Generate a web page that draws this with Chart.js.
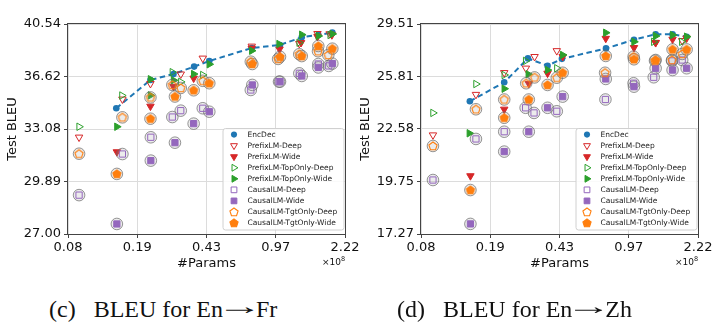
<!DOCTYPE html>
<html>
<head>
<meta charset="utf-8">
<script src="https://cdn.jsdelivr.net/npm/chart.js@4.4.1/dist/chart.umd.min.js"></script>
<style>
  html, body { margin: 0; padding: 0; }
  body { width: 720px; height: 329px; background: #fff; position: relative; overflow: hidden; }
  canvas { position: absolute; top: 0; }
  .exp { position: absolute; font: 9px "DejaVu Sans", sans-serif; color: #111; line-height: 9px; }
  .exp sup { font-size: 6.5px; vertical-align: 4px; }
  .cap { position: absolute; top: 297px; font: 24px "Liberation Serif", "Times New Roman", serif; color: #111; line-height: 24px; white-space: pre; }
  .cap .gap { display: inline-block; width: 18px; }
  .cap .arr { display: inline-block; width: 33px; text-align: center; transform: translateY(-3px) scaleX(1.9); }
</style>
</head>
<body>
<canvas id="fr" width="380" height="290" style="left:0px"></canvas>
<canvas id="zh" width="367" height="290" style="left:353px"></canvas>
<div class="exp" style="left:322px;top:255px">×10<sup>8</sup></div>
<div class="exp" style="left:675px;top:255px">×10<sup>8</sup></div>
<div class="cap" style="left:49px">(c)<span class="gap"></span>BLEU for En<span class="arr">→</span>Fr</div>
<div class="cap" style="left:397px">(d)<span class="gap"></span>BLEU for En<span class="arr">→</span>Zh</div>
<script>
// Model size axis (#Params, in units of 1e8), log-spaced ticks
const paramTicks = [0.0815, 0.1862, 0.4255, 0.9723, 2.2217];
const paramTickLabels = ['0.08', '0.19', '0.43', '0.97', '2.22'];

// ---- En→Fr test BLEU ----
const frBleuTicks = [27.00, 29.89, 33.08, 36.62, 40.54];
const frEncDecParams = [0.145, 0.218, 0.287, 0.367, 0.440, 0.730, 1.023, 1.326, 1.616, 1.910];
const frEncDecBleu   = [34.44, 36.38, 36.80, 37.33, 37.74, 38.70, 38.93, 39.51, 39.69, 39.87];
const frPrefixDeepParams = [0.093, 0.156, 0.218, 0.313, 0.407, 0.730, 1.288, 1.600, 1.850];
const frPrefixDeepBleu   = [32.56, 35.05, 36.12, 36.79, 37.94, 38.83, 39.03, 39.79, 39.77];
const frPrefixWideParams = [0.146, 0.218, 0.287, 0.365, 0.730, 1.017, 1.315, 1.600, 1.900];
const frPrefixWideBleu   = [31.65, 34.57, 35.92, 36.50, 38.68, 38.61, 39.10, 39.56, 39.69];
const frTopDeepParams = [0.093, 0.155, 0.283, 0.313, 0.407, 1.285, 1.860];
const frTopDeepBleu   = [33.23, 35.30, 36.93, 36.24, 36.73, 39.10, 39.69];
const frTopWideParams = [0.146, 0.218, 0.218, 0.287, 0.365, 0.440, 0.730, 1.011, 1.326, 1.616, 1.910];
const frTopWideBleu   = [33.23, 35.31, 36.43, 36.36, 36.80, 37.50, 38.50, 39.00, 39.71, 39.61, 39.77];
const frCausalDeepParams = [0.093, 0.156, 0.219, 0.283, 0.313, 0.407, 0.722, 1.011, 1.288, 1.616, 1.830];
const frCausalDeepBleu   = [29.11, 31.52, 32.56, 33.86, 34.28, 34.44, 35.68, 36.26, 36.85, 37.52, 37.38];
const frCausalWideParams = [0.146, 0.219, 0.292, 0.365, 0.440, 0.735, 1.023, 1.326, 1.616, 1.910];
const frCausalWideBleu   = [27.53, 31.12, 32.22, 33.43, 34.21, 36.03, 36.26, 36.66, 37.27, 37.55];
const frTgtDeepParams = [0.093, 0.156, 0.218, 0.283, 0.313, 0.407, 0.722, 1.000, 1.287, 1.610, 1.820];
const frTgtDeepBleu   = [31.54, 33.84, 35.17, 36.03, 35.82, 36.32, 37.69, 37.89, 38.24, 38.46, 38.18];
const frTgtWideParams = [0.146, 0.218, 0.292, 0.365, 0.440, 0.735, 1.023, 1.326, 1.616, 1.910];
const frTgtWideBleu   = [30.33, 33.75, 35.23, 35.66, 36.15, 37.52, 38.05, 38.10, 38.85, 38.65];

// ---- En→Zh test BLEU ----
const zhBleuTicks = [17.27, 19.75, 22.58, 25.81, 29.51];
const zhEncDecParams = [0.146, 0.220, 0.292, 0.369, 0.438, 0.741, 1.035, 1.340, 1.640, 1.940];
const zhEncDecBleu   = [24.23, 25.43, 27.03, 26.53, 27.00, 27.73, 28.35, 28.75, 28.75, 28.57];
const zhPrefixDeepParams = [0.094, 0.157, 0.220, 0.285, 0.316, 0.412, 1.340, 1.840];
const zhPrefixDeepBleu   = [22.23, 24.65, 26.06, 26.36, 27.15, 27.56, 28.15, 28.28];
const zhPrefixWideParams = [0.147, 0.220, 0.295, 0.369, 0.442, 0.739, 1.035, 1.340, 1.640, 1.940];
const zhPrefixWideBleu   = [20.03, 23.74, 25.35, 26.02, 27.15, 28.44, 27.78, 28.13, 28.38, 28.46];
const zhTopDeepParams = [0.094, 0.157, 0.220, 0.284, 0.412, 1.310, 1.830];
const zhTopDeepBleu   = [23.52, 25.32, 25.91, 26.86, 26.36, 28.20, 28.20];
const zhTopWideParams = [0.145, 0.220, 0.293, 0.369, 0.442, 0.739, 1.035, 1.340, 1.640, 1.940];
const zhTopWideBleu   = [22.33, 25.02, 25.96, 26.24, 27.27, 28.86, 28.20, 28.62, 28.69, 28.57];
const zhCausalDeepParams = [0.094, 0.157, 0.220, 0.284, 0.314, 0.412, 0.736, 1.030, 1.310, 1.630, 1.840];
const zhCausalDeepBleu   = [19.82, 22.01, 22.42, 23.83, 23.52, 23.62, 24.34, 25.37, 25.76, 26.86, 26.92];
const zhCausalWideParams = [0.147, 0.220, 0.295, 0.369, 0.442, 0.739, 1.035, 1.340, 1.640, 1.940];
const zhCausalWideBleu   = [17.72, 21.31, 22.42, 23.83, 24.52, 25.65, 25.15, 26.36, 26.24, 26.36];
const zhTgtDeepParams = [0.094, 0.157, 0.220, 0.286, 0.316, 0.412, 0.733, 1.030, 1.330, 1.630, 1.840];
const zhTgtDeepBleu   = [21.62, 23.74, 24.34, 25.37, 25.75, 25.73, 26.06, 27.15, 26.87, 26.92, 27.34];
const zhTgtWideParams = [0.147, 0.220, 0.295, 0.369, 0.442, 0.739, 1.035, 1.340, 1.640, 1.940];
const zhTgtWideBleu   = [19.32, 23.23, 24.34, 25.26, 26.06, 27.20, 26.97, 26.92, 27.66, 27.66];

const seriesNames = ['EncDec', 'PrefixLM-Deep', 'PrefixLM-Wide', 'PrefixLM-TopOnly-Deep',
  'PrefixLM-TopOnly-Wide', 'CausalLM-Deep', 'CausalLM-Wide', 'CausalLM-TgtOnly-Deep', 'CausalLM-TgtOnly-Wide'];

const COL = { blue: '#1f77b4', orange: '#ff7f0e', green: '#2ca02c', red: '#d62728', purple: '#9467bd' };
const NONE = 'rgba(0,0,0,0)';

// pentagon marker sprite (Chart.js has no built-in pentagon)
function pentagon(filled) {
  const c = document.createElement('canvas');
  c.width = 12; c.height = 12;
  const g = c.getContext('2d');
  const r = 4.3;
  g.beginPath();
  for (let k = 0; k < 5; k++) {
    const a = -Math.PI / 2 + k * 2 * Math.PI / 5;
    const px = 6 + r * Math.cos(a), py = 6.3 + r * Math.sin(a);
    k ? g.lineTo(px, py) : g.moveTo(px, py);
  }
  g.closePath();
  if (filled) { g.fillStyle = COL.orange; g.fill(); }
  g.strokeStyle = COL.orange; g.lineWidth = 1.1; g.stroke();
  return c;
}
const pentOpen = pentagon(false), pentFull = pentagon(true);

const markers = [
  { style: 'circle',   rot: 0,   r: 3.3, fill: COL.blue,   stroke: COL.blue,   lw: 0 },
  { style: 'triangle', rot: 180, r: 4.3, fill: NONE,       stroke: COL.red,    lw: 1 },
  { style: 'triangle', rot: 180, r: 4.3, fill: COL.red,    stroke: COL.red,    lw: 1 },
  { style: 'triangle', rot: 90,  r: 4.3, fill: NONE,       stroke: COL.green,  lw: 1 },
  { style: 'triangle', rot: 90,  r: 4.3, fill: COL.green,  stroke: COL.green,  lw: 1 },
  { style: 'rect',     rot: 0,   r: 4.4, fill: NONE,       stroke: COL.purple, lw: 1 },
  { style: 'rect',     rot: 0,   r: 4.4, fill: COL.purple, stroke: COL.purple, lw: 1 },
  { style: pentOpen,   rot: 0,   r: 4.3, fill: NONE,       stroke: COL.orange, lw: 1 },
  { style: pentFull,   rot: 0,   r: 4.3, fill: COL.orange, stroke: COL.orange, lw: 1 }
];

function pts(xs, ys) { return xs.map((x, i) => ({ x: x, y: ys[i] })); }

function buildDatasets(series) {
  // series: list of [params, bleu] pairs in legend order
  const sets = [];
  series.forEach((s, i) => {
    const m = markers[i];
    sets.push({
      label: seriesNames[i],
      data: pts(s[0], s[1]),
      mk: m,
      showLine: i === 0,
      borderColor: COL.blue,
      borderWidth: 2,
      borderDash: [5.5, 3.5],
      pointStyle: m.style,
      rotation: m.rot,
      pointRadius: m.r,
      pointBackgroundColor: m.fill,
      pointBorderColor: m.stroke,
      pointBorderWidth: m.lw
    });
  });
  // grey highlight rings behind every CausalLM point
  const ringData = [];
  for (let i = 5; i < 9; i++) ringData.push(...pts(series[i][0], series[i][1]));
  const rings = {
    label: 'ring', noLegend: true, data: ringData, showLine: false,
    pointStyle: 'circle', pointRadius: 5.8,
    pointBackgroundColor: 'rgba(150,150,150,0.18)',
    pointBorderColor: 'rgba(105,105,105,0.7)', pointBorderWidth: 1
  };
  sets.splice(5, 0, rings);
  // later series drawn on top of earlier ones
  sets.forEach((d, k) => { d.order = 100 - k; });
  return sets;
}

const framePlugin = {
  id: 'frameAndLegend',
  afterDatasetsDraw(chart) {
    const { ctx, chartArea: a } = chart;
    ctx.save();
    ctx.strokeStyle = '#444';
    ctx.lineWidth = 1;
    ctx.strokeRect(Math.round(a.left) - 0.5, Math.round(a.top) - 0.5,
      Math.round(a.right - a.left) + 1, Math.round(a.bottom - a.top) + 1);

    // legend box in the lower right corner
    const items = chart.data.datasets.filter(d => !d.noLegend);
    const w = 121, h = 101.5, rowH = 11.05;
    const x0 = a.right - 1.5 - w, y0 = a.bottom - 4.5 - h;
    ctx.beginPath();
    if (ctx.roundRect) ctx.roundRect(x0 + 0.5, y0 + 0.5, w, h, 2.5); else ctx.rect(x0 + 0.5, y0 + 0.5, w, h);
    ctx.fillStyle = 'rgba(255,255,255,0.85)';
    ctx.fill();
    ctx.strokeStyle = '#d0d0d0';
    ctx.stroke();
    ctx.font = '7.5px "DejaVu Sans", sans-serif';
    ctx.textBaseline = 'middle';
    items.forEach((d, i) => {
      const y = y0 + 6.6 + i * rowH;
      const m = d.mk;
      ctx.fillStyle = m.fill;
      ctx.strokeStyle = m.stroke;
      ctx.lineWidth = m.lw;
      Chart.helpers.drawPoint(ctx, { pointStyle: m.style, rotation: m.rot, radius: m.r * 0.92, borderWidth: m.lw }, x0 + 11.5, y);
      ctx.fillStyle = '#1a1a1a';
      ctx.fillText(d.label, x0 + 25, y + 0.5);
    });
    ctx.restore();
  }
};

function makeChart(id, bleuTicks, series, rightPad) {
  const tickFont = { family: '"DejaVu Sans", sans-serif', size: 13 };
  return new Chart(document.getElementById(id), {
    type: 'scatter',
    data: { datasets: buildDatasets(series) },
    plugins: [framePlugin],
    options: {
      responsive: false,
      animation: false,
      devicePixelRatio: 1,
      events: [],
      layout: { padding: { left: 0, top: 24, right: rightPad, bottom: 0 } },
      plugins: { legend: { display: false }, tooltip: { enabled: false } },
      scales: {
        x: {
          type: 'logarithmic',
          min: paramTicks[0], max: paramTicks[paramTicks.length - 1],
          afterBuildTicks: s => { s.ticks = paramTicks.map(v => ({ value: v })); },
          afterFit: s => { s.height = 56; },
          ticks: {
            autoSkip: false, maxRotation: 0, padding: 2, color: '#111', font: tickFont,
            callback: (v, i) => paramTickLabels[i]
          },
          grid: { color: '#dcdcdc', lineWidth: 1, tickLength: 4, tickColor: '#444' },
          border: { display: false },
          title: { display: true, text: '#Params', color: '#111', font: tickFont, padding: { top: 0, bottom: 19 } }
        },
        y: {
          type: 'logarithmic',
          min: bleuTicks[0], max: bleuTicks[bleuTicks.length - 1],
          afterBuildTicks: s => { s.ticks = bleuTicks.map(v => ({ value: v })); },
          afterFit: s => { s.width = 68; },
          ticks: {
            autoSkip: false, padding: 3, color: '#111', font: tickFont,
            callback: v => Number(v).toFixed(2)
          },
          grid: { color: '#dcdcdc', lineWidth: 1, tickLength: 4, tickColor: '#444' },
          border: { display: false },
          title: { display: true, text: 'Test BLEU', color: '#111', font: tickFont, padding: { top: 5, bottom: 0 } }
        }
      }
    }
  });
}

makeChart('fr', frBleuTicks, [
  [frEncDecParams, frEncDecBleu], [frPrefixDeepParams, frPrefixDeepBleu], [frPrefixWideParams, frPrefixWideBleu],
  [frTopDeepParams, frTopDeepBleu], [frTopWideParams, frTopWideBleu], [frCausalDeepParams, frCausalDeepBleu],
  [frCausalWideParams, frCausalWideBleu], [frTgtDeepParams, frTgtDeepBleu], [frTgtWideParams, frTgtWideBleu]
], 35);

makeChart('zh', zhBleuTicks, [
  [zhEncDecParams, zhEncDecBleu], [zhPrefixDeepParams, zhPrefixDeepBleu], [zhPrefixWideParams, zhPrefixWideBleu],
  [zhTopDeepParams, zhTopDeepBleu], [zhTopWideParams, zhTopWideBleu], [zhCausalDeepParams, zhCausalDeepBleu],
  [zhCausalWideParams, zhCausalWideBleu], [zhTgtDeepParams, zhTgtDeepBleu], [zhTgtWideParams, zhTgtWideBleu]
], 22);
</script>
</body>
</html>
